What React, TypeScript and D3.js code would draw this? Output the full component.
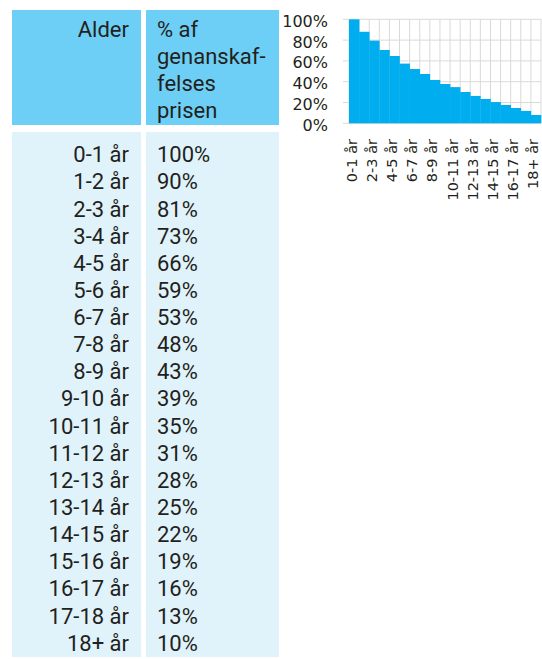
import React from "react";
import * as d3 from "d3";

const ageLabels = [
  "0-1 år", "1-2 år", "2-3 år", "3-4 år", "4-5 år", "5-6 år", "6-7 år", "7-8 år",
  "8-9 år", "9-10 år", "10-11 år", "11-12 år", "12-13 år", "13-14 år", "14-15 år",
  "15-16 år", "16-17 år", "17-18 år", "18+ år",
];
const tableValues = [100, 90, 81, 73, 66, 59, 53, 48, 43, 39, 35, 31, 28, 25, 22, 19, 16, 13, 10];
const chartValues = [100, 88, 79.5, 70.5, 64.7, 57.4, 52.2, 47.4, 41.7, 37.8, 34.8, 30.1, 26.3, 23.4, 20.4, 17.6, 14.7, 11.9, 8.0];
const yTicks = [0, 20, 40, 60, 80, 100];
const headerLeft = "Alder";
const headerRight = ["% af", "genanskaf-", "felses", "prisen"];

const W = 542;
const H = 659;
const HEADER_BG = "#6dcff6";
const BODY_BG = "#e0f3fb";
const BAR = "#00aeef";
const GRID = "#d9d9d9";
const TEXT = "#231f20";
const tableFont = "Roboto, 'Noto Sans', sans-serif";
const chartFont = "'DejaVu Sans', Verdana, sans-serif";

export default function App() {
  const x = d3.scaleBand<string>().domain(ageLabels).range([349, 541]).padding(0);
  const y = d3.scaleLinear().domain([0, 100]).range([123.3, 19.3]);
  const bw = x.bandwidth();

  const rowY = (i: number) => 162.3 + i * 27.13;

  return (
    <svg
      width={W}
      height={H}
      style={{ position: "absolute", left: 0, top: 0, background: "#fff" }}
    >
      {/* Table backgrounds */}
      <rect x={12} y={10} width={129} height={115} fill={HEADER_BG} />
      <rect x={146} y={10} width={133} height={115} fill={HEADER_BG} />
      <rect x={12} y={132} width={129} height={525} fill={BODY_BG} />
      <rect x={146} y={132} width={133} height={525} fill={BODY_BG} />

      {/* Header text */}
      <g fontFamily={tableFont} fontSize={22} fill={TEXT}>
        <text x={129} y={37.3} textAnchor="end">{headerLeft}</text>
        {headerRight.map((t, i) => (
          <text key={t} x={157} y={37.3 + i * 27}>{t}</text>
        ))}
      </g>

      {/* Body rows */}
      <g fontFamily={tableFont} fontSize={22} fill={TEXT}>
        {ageLabels.map((a, i) => (
          <g key={a}>
            <text x={129} y={rowY(i)} textAnchor="end">{a}</text>
            <text x={157} y={rowY(i)}>{tableValues[i]}%</text>
          </g>
        ))}
      </g>

      {/* Chart gridlines */}
      <g stroke={GRID} strokeWidth={1}>
        {yTicks.map((t) => (
          <line key={"h" + t} x1={343} x2={541} y1={y(t)} y2={y(t)} />
        ))}
        {ageLabels.map((a, i) => (
          <line key={"v" + a} x1={(x(a) as number) + bw} x2={(x(a) as number) + bw} y1={y(100)} y2={y(0)} />
        ))}
        <line x1={349} x2={349} y1={y(100)} y2={y(0)} />
      </g>

      {/* Bars */}
      <g fill={BAR}>
        {ageLabels.map((a, i) => (
          <rect key={a} x={x(a) as number} y={y(chartValues[i])} width={bw + 0.3} height={y(0) - y(chartValues[i])} />
        ))}
      </g>

      {/* Y axis labels */}
      <g fontFamily={chartFont} fontSize={16} fill={TEXT} textAnchor="end">
        {yTicks.map((t) => (
          <text key={t} x={328} y={y(t) + 2} dominantBaseline="central">{t}%</text>
        ))}
      </g>

      {/* X axis labels */}
      <g fontFamily={chartFont} fontSize={14.5} fill={TEXT}>
        {ageLabels.map((a, i) =>
          i % 2 === 0 ? (
            <text
              key={a}
              transform={`translate(${(x(a) as number) + bw / 2 - 2.5},139) rotate(-90)`}
              textAnchor="end"
              dominantBaseline="central"
            >
              {a}
            </text>
          ) : null
        )}
      </g>
    </svg>
  );
}
